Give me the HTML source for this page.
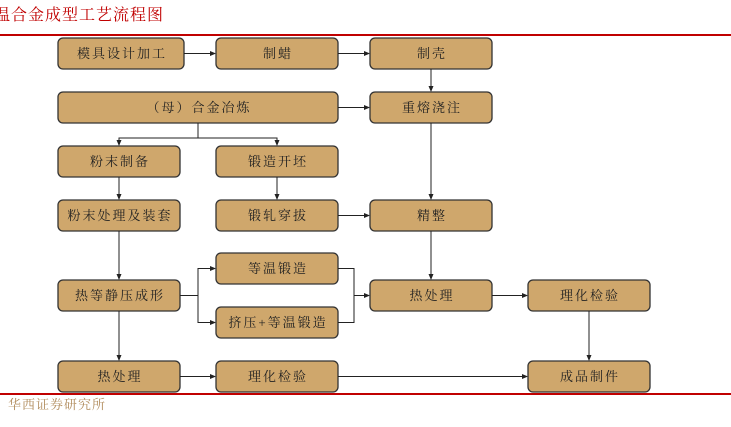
<!DOCTYPE html>
<html><head><meta charset="utf-8"><style>
body{margin:0;background:#fff;width:731px;height:422px;overflow:hidden}
text{font-family:"Liberation Serif","Noto Serif CJK SC",serif;}
</style></head><body>
<svg width="731" height="422" viewBox="0 0 731 422" xmlns="http://www.w3.org/2000/svg">
<defs><marker id="a" markerWidth="6" markerHeight="6" refX="5" refY="3" orient="auto"><path d="M0,0.5 L6,3 L0,5.5z" fill="#222"/></marker></defs>
<text x="-6" y="20" font-size="16" fill="#c00000" letter-spacing="1">温合金成型工艺流程图</text>
<rect x="0" y="34" width="731" height="2" fill="#c00000"/>
<rect x="0" y="393" width="731" height="2" fill="#c00000"/>
<text x="8" y="409" font-size="13" fill="#b08a5a" letter-spacing="1">华西证券研究所</text>
<g fill="#CFA76C" stroke="#333" stroke-width="1.3">
<rect x="58" y="38" width="126" height="31" rx="5"/>
<rect x="216" y="38" width="122" height="31" rx="5"/>
<rect x="370" y="38" width="122" height="31" rx="5"/>
<rect x="58" y="92" width="280" height="31" rx="5"/>
<rect x="370" y="92" width="122" height="31" rx="5"/>
<rect x="58" y="146" width="122" height="31" rx="5"/>
<rect x="216" y="146" width="122" height="31" rx="5"/>
<rect x="58" y="200" width="122" height="31" rx="5"/>
<rect x="216" y="200" width="122" height="31" rx="5"/>
<rect x="370" y="200" width="122" height="31" rx="5"/>
<rect x="216" y="253" width="122" height="31" rx="5"/>
<rect x="58" y="280" width="122" height="31" rx="5"/>
<rect x="370" y="280" width="122" height="31" rx="5"/>
<rect x="528" y="280" width="122" height="31" rx="5"/>
<rect x="216" y="307" width="122" height="31" rx="5"/>
<rect x="58" y="361" width="122" height="31" rx="5"/>
<rect x="216" y="361" width="122" height="31" rx="5"/>
<rect x="528" y="361" width="122" height="31" rx="5"/>
</g>
<g font-size="13" fill="#222" text-anchor="middle" letter-spacing="2">
<text x="122" y="58">模具设计加工</text>
<text x="278" y="58">制蜡</text>
<text x="432" y="58">制壳</text>
<text x="199" y="112">（母）合金冶炼</text>
<text x="432" y="112">重熔浇注</text>
<text x="120" y="166">粉末制备</text>
<text x="278" y="166">锻造开坯</text>
<text x="120" y="220">粉末处理及装套</text>
<text x="278" y="220">锻轧穿拔</text>
<text x="432" y="220">精整</text>
<text x="278" y="273">等温锻造</text>
<text x="120" y="300">热等静压成形</text>
<text x="432" y="300">热处理</text>
<text x="590" y="300">理化检验</text>
<text x="278" y="327">挤压+等温锻造</text>
<text x="120" y="381">热处理</text>
<text x="278" y="381">理化检验</text>
<text x="590" y="381">成品制件</text>
</g>
<g stroke="#222" stroke-width="1" fill="none" marker-end="url(#a)">
<path d="M184,53.5 H215"/>
<path d="M338,53.5 H369"/>
<path d="M431,69 V91"/>
<path d="M338,107.5 H369"/>
<path d="M431,123 V199"/>
<path d="M198,123 V138 H119 V145"/>
<path d="M198,138 H277 V145"/>
<path d="M119,177 V199"/>
<path d="M277,177 V199"/>
<path d="M338,215.5 H369"/>
<path d="M119,231 V279"/>
<path d="M180,295.5 H198 V268.5 H215"/>
<path d="M198,295.5 V322.5 H215"/>
<path d="M338,268.5 H354 V322.5 H338"  marker-end="none"/>
<path d="M354,295.5 H369"/>
<path d="M431,231 V279"/>
<path d="M492,295.5 H527"/>
<path d="M589,311 V360"/>
<path d="M119,311 V360"/>
<path d="M180,376.5 H215"/>
<path d="M338,376.5 H527"/>
</g>
</svg>
</body></html>
